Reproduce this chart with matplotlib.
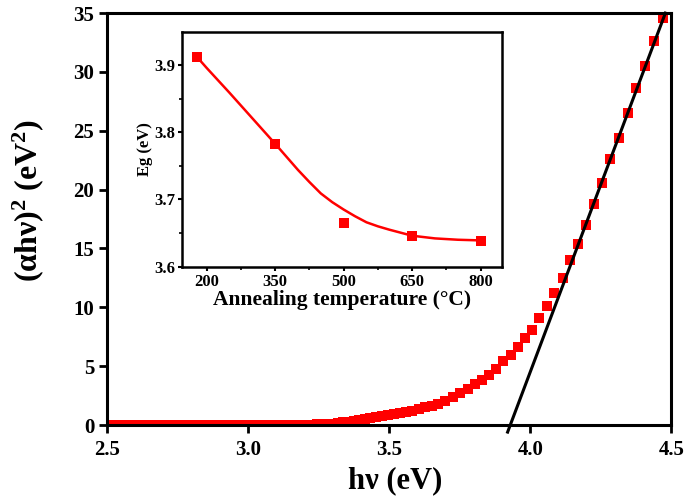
import matplotlib
matplotlib.use('Agg')
import matplotlib.pyplot as plt

plt.rcParams['font.family'] = ['Liberation Serif', 'DejaVu Serif']
plt.rcParams['font.weight'] = 'bold'
plt.rcParams['axes.labelweight'] = 'bold'
plt.rcParams['mathtext.fontset'] = 'custom'
plt.rcParams['mathtext.rm'] = 'Liberation Serif:bold'
plt.rcParams['mathtext.it'] = 'Liberation Serif:bold'
plt.rcParams['mathtext.bf'] = 'Liberation Serif:bold'

# Tauc plot data (photon energy in eV, (alpha h nu)^2 in eV^2)
energy = [4.471, 4.440, 4.408, 4.376, 4.346, 4.315, 4.284, 4.256, 4.227, 4.199,
          4.169, 4.142, 4.115, 4.085, 4.059, 4.032, 4.008, 3.983, 3.956, 3.932,
          3.905, 3.879, 3.854, 3.829, 3.804, 3.779, 3.752, 3.726, 3.699, 3.675,
          3.651, 3.628, 3.605, 3.582, 3.560, 3.538, 3.517, 3.496, 3.475, 3.454,
          3.434, 3.414, 3.394, 3.375, 3.356, 3.337, 3.318, 3.300, 3.282, 3.264,
          3.246, 3.229, 3.212, 3.195, 3.178, 3.161, 3.145, 3.129, 3.113, 3.097,
          3.081, 3.066, 3.051, 3.036, 3.021, 3.006, 2.992, 2.977, 2.963, 2.945,
          2.925, 2.905, 2.885, 2.865, 2.845, 2.825, 2.805, 2.785, 2.765, 2.745,
          2.725, 2.705, 2.685, 2.665, 2.645, 2.625, 2.605, 2.585, 2.565, 2.545,
          2.525, 2.505]
ahv2 = [34.6, 32.65, 30.5, 28.6, 26.5, 24.4, 22.6, 20.6, 18.8, 17.0,
        15.4, 14.0, 12.5, 11.2, 10.1, 9.1, 8.1, 7.4, 6.65, 5.95,
        5.4, 4.8, 4.25, 3.8, 3.45, 3.1, 2.75, 2.4, 2.07, 1.82,
        1.65, 1.5, 1.36, 1.22, 1.1, 1.0, 0.95, 0.89, 0.8, 0.71,
        0.62, 0.54, 0.45, 0.37, 0.29, 0.22, 0.16, 0.11, 0.08, 0.06,
        0.05, 0.04, 0.03, 0.03, 0.02, 0.02, 0.02, 0.02, 0.02, 0.02,
        0.02, 0.02, 0.02, 0.02, 0.02, 0.02, 0.02, 0.02, 0.02, 0.02,
        0.02, 0.02, 0.02, 0.02, 0.02, 0.02, 0.02, 0.02, 0.02, 0.02,
        0.02, 0.02, 0.02, 0.02, 0.02, 0.02, 0.02, 0.02, 0.02, 0.02,
        0.02, 0.02]

# linear extrapolation line end points
fit_x = [3.920, 4.479]
fit_y = [-0.6, 35.0]

# inset: band gap vs annealing temperature
temp = [178, 350, 500, 650, 800]
eg = [3.913, 3.783, 3.665, 3.645, 3.638]
curve_t = [178, 200, 250, 300, 350, 400, 425, 450, 475, 500, 525, 550, 575,
           600, 650, 700, 750, 800]
curve_eg = [3.913, 3.896, 3.859, 3.821, 3.783, 3.744, 3.726, 3.709, 3.696,
            3.685, 3.675, 3.666, 3.660, 3.655, 3.646, 3.642, 3.640, 3.639]

fig = plt.figure(figsize=(6.85, 5.03), dpi=100)
ax = fig.add_axes([0.156, 0.155, 0.824, 0.819])

ax.plot(energy, ahv2, 's', color='red', markersize=7, markeredgewidth=0)
ax.plot(fit_x, fit_y, color='black', linewidth=2.2, clip_on=False)

ax.set_xlim(2.5, 4.5)
ax.set_ylim(0, 35)
ax.set_xticks([2.5, 3.0, 3.5, 4.0, 4.5])
ax.set_yticks([0, 5, 10, 15, 20, 25, 30, 35])
ax.tick_params(direction='out', length=6, width=2, labelsize=15, pad=3)
ax.tick_params(axis='x', pad=5)
for s in ax.spines.values():
    s.set_linewidth(2.2)
ax.set_xlabel('hν (eV)', fontsize=22, fontweight='bold')
ax.set_ylabel(r'(αhν)$^2$ (eV$^2$)', fontsize=23, fontweight='bold')
ax.xaxis.set_label_coords(0.51, -0.10)
ax.yaxis.set_label_coords(-0.108, 0.544)

ins = fig.add_axes([0.2657, 0.470, 0.4673, 0.467])
ins.plot(curve_t, curve_eg, color='red', linewidth=1.8)
ins.plot(temp, eg, 's', color='red', markersize=6.5, markeredgewidth=0)
ins.set_xlim(146, 847)
ins.set_ylim(3.6, 3.95)
ins.set_xticks([200, 350, 500, 650, 800])
ins.set_xticks([275, 425, 575, 725], minor=True)
ins.set_yticks([3.6, 3.7, 3.8, 3.9])
ins.set_yticks([3.65, 3.75, 3.85], minor=True)
ins.tick_params(direction='out', length=3, width=1.5, labelsize=12, pad=2)
ins.tick_params(which='minor', direction='out', length=2, width=1.2)
for s in ins.spines.values():
    s.set_linewidth(1.8)
ins.set_xlabel('Annealing temperature (°C)', fontsize=15.5, fontweight='bold', labelpad=0)
ins.set_ylabel('Eg (eV)', fontsize=12, fontweight='bold', labelpad=1)

fig.savefig('out.png', dpi=100)
